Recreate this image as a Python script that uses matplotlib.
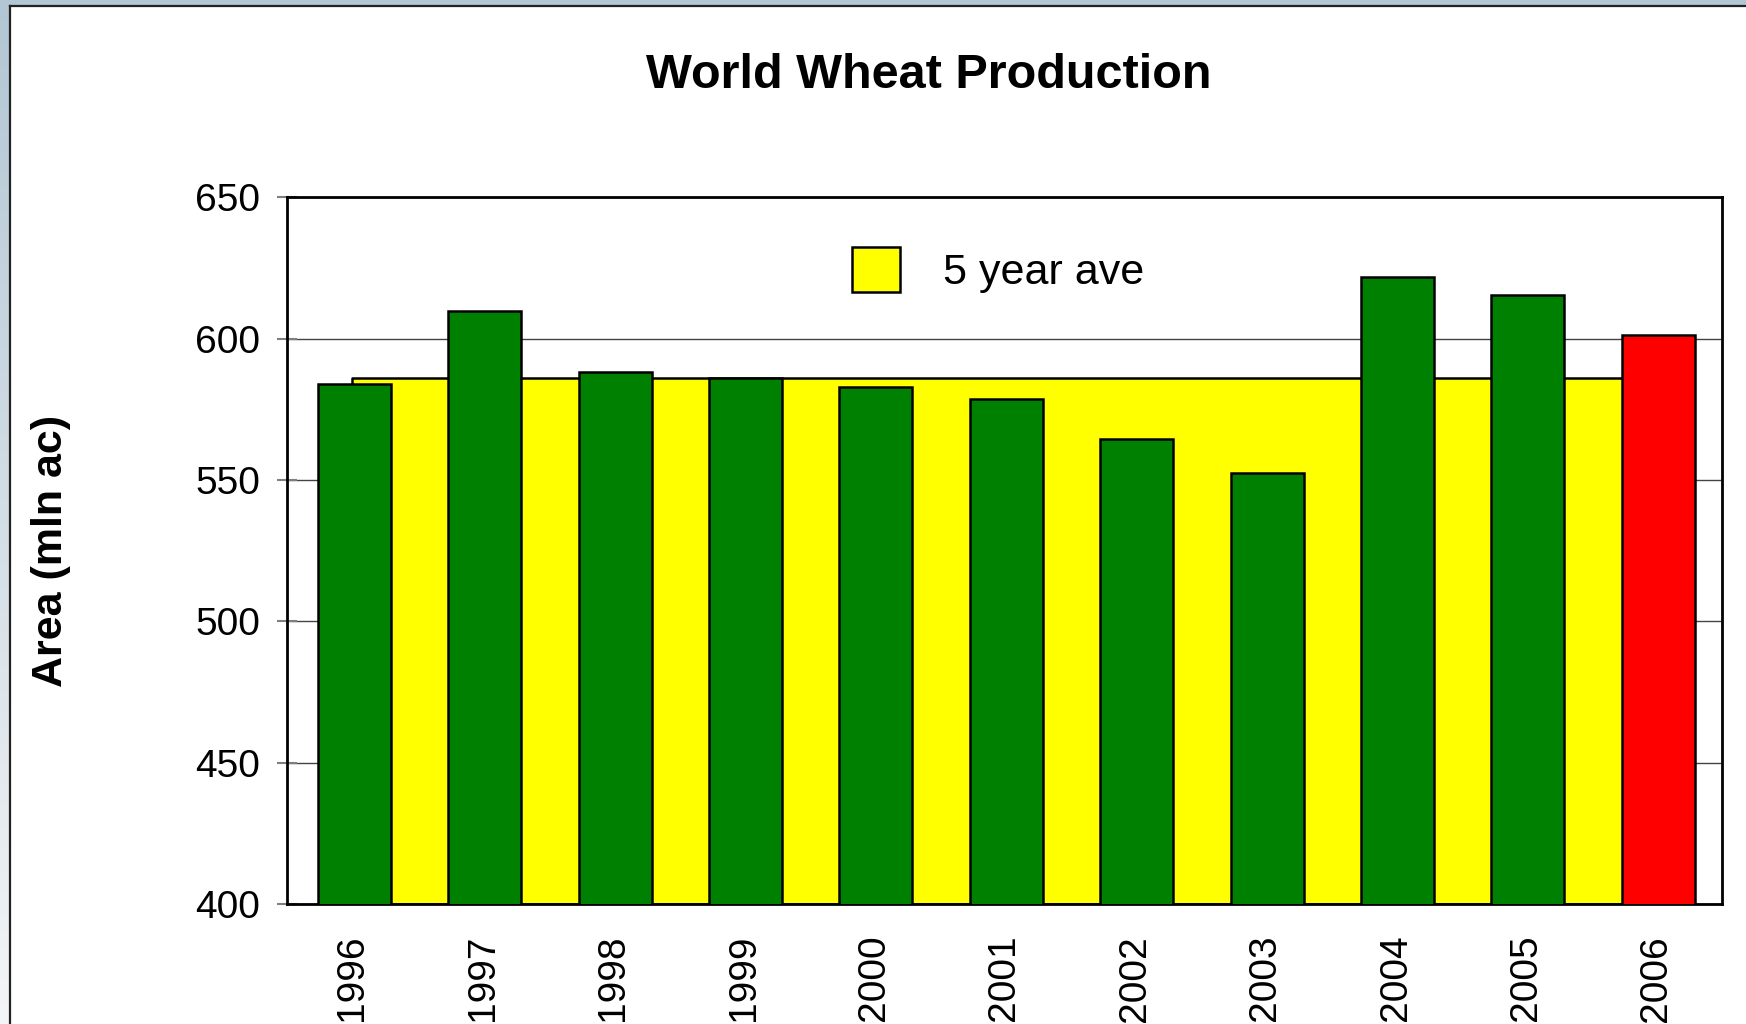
import numpy as np
import matplotlib
matplotlib.use("Agg")
import matplotlib.pyplot as plt
from matplotlib.lines import Line2D

plt.rcParams['font.family'] = ['Liberation Sans', 'DejaVu Sans']

# Data
years = ['1996', '1997', '1998', '1999', '2000', '2001',
         '2002', '2003', '2004', '2005', '2006']
area = [583.8, 609.9, 588.0, 586.1, 582.8, 578.6,
        564.6, 552.5, 621.8, 615.3, 601.2]
five_year_ave = 586.0
bar_colors = ['#008000'] * 10 + ['#ff0000']
y_ticks = [400, 450, 500, 550, 600, 650]

W, H = 1746, 1024
fig = plt.figure(figsize=(W / 100, H / 100), dpi=100)
fig.patch.set_facecolor('white')

# Slide-style backdrop: tinted top band and a fading left strip
bg = fig.add_axes([0, 0, 1, 1], zorder=-10)
bg.set_xlim(0, W)
bg.set_ylim(H, 0)
bg.axis('off')
img = np.ones((H, W, 3))
top_col = np.array([178, 198, 212]) / 255
low_col = np.array([244, 245, 246]) / 255
t = np.linspace(0, 1, H)[:, None]
strip = top_col * (1 - t) + low_col * t
img[:, :9, :] = strip[:, None, :]
img[:5, :, :] = top_col
bg.imshow(img, extent=(0, W, H, 0), aspect='auto', interpolation='bilinear')
bg.add_line(Line2D([10, 10], [6, H], color='#222222', lw=1.6))
bg.add_line(Line2D([10, W], [6, 6], color='#222222', lw=1.6))

# Main chart
ax_l, ax_r, ax_t, ax_b = 287.3, 1721.5, 197.1, 904.2
ax = fig.add_axes([ax_l / W, 1 - ax_b / H, (ax_r - ax_l) / W, (ax_b - ax_t) / H])
x = np.arange(len(years))

ax.fill_between([x[0], x[-1]], [400, 400], [five_year_ave, five_year_ave],
                facecolor='#ffff00', edgecolor='black', linewidth=1.8,
                zorder=2, label='5 year ave')
ax.bar(x + 0.015, area, width=0.56, bottom=0, color=bar_colors,
       edgecolor='black', linewidth=1.8, zorder=3)

ax.set_xlim(-0.5, len(years) - 0.5)
ax.set_ylim(400, 650)
ax.set_yticks(y_ticks)
ax.set_yticklabels([str(v) for v in y_ticks], fontsize=28)
ax.set_xticks(x)
ax.set_xticklabels(years, rotation=90, fontsize=28)
ax.tick_params(axis='x', length=0, pad=22)
ax.tick_params(axis='y', direction='inout', length=15, width=1.5,
               color='#7f7f7f', pad=12)
ax.yaxis.grid(True, color='#444444', linewidth=1.0, zorder=0)
ax.set_axisbelow(True)
for sp in ax.spines.values():
    sp.set_linewidth(2.0)
    sp.set_color('black')

ax.set_ylabel('Area (mln ac)', fontsize=31, fontweight='bold')
ax.yaxis.set_label_coords(-0.151, 0.5)

leg = ax.legend(loc='upper left', bbox_to_anchor=(0.3936, 0.929),
                frameon=False, fontsize=31, borderpad=0, borderaxespad=0,
                handlelength=1.13, handleheight=1.22, handletextpad=0.98)

fig.text(0.532, 1 - 88.5 / H, 'World Wheat Production', fontsize=35,
         fontweight='bold', ha='center', va='baseline')

fig.savefig('out.png', dpi=100)
